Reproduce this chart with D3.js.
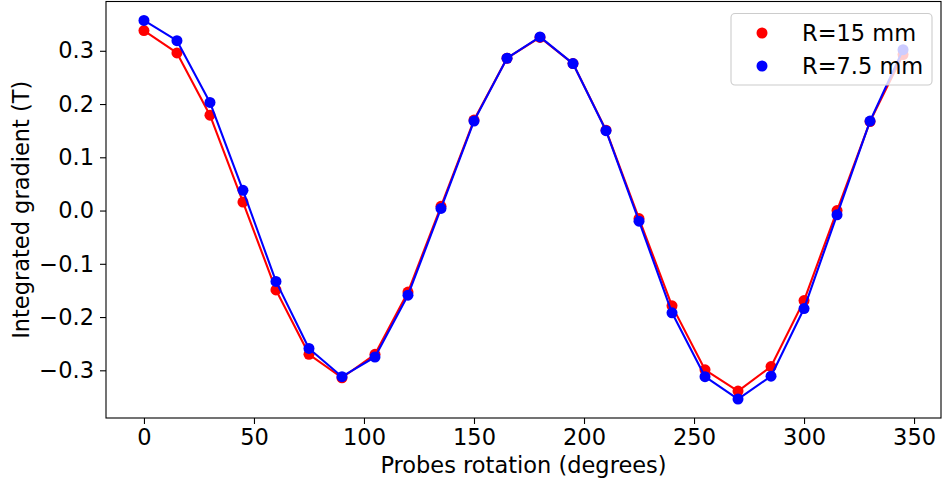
<!DOCTYPE html>
<html>
<head>
<meta charset="utf-8">
<script src="https://cdn.jsdelivr.net/npm/d3@7"></script>
<style>
  html, body { margin: 0; padding: 0; background: #fff; }
  svg { display: block; font-family: "DejaVu Sans", sans-serif; }
</style>
</head>
<body>
<svg id="chart" width="942" height="483"></svg>
<script>
// ---- data ----
const angles = [0, 15, 30, 45, 60, 75, 90, 105, 120, 135, 150, 165, 180, 195, 210, 225, 240, 255, 270, 285, 300, 315, 330, 345];
const r15 = [0.338, 0.296, 0.179, 0.016, -0.149, -0.270, -0.314, -0.270, -0.153, 0.008, 0.170, 0.286, 0.325, 0.276, 0.151, -0.015, -0.179, -0.299, -0.339, -0.293, -0.169, 0.000, 0.167, 0.293];
const r75 = [0.357, 0.319, 0.203, 0.038, -0.133, -0.259, -0.312, -0.275, -0.159, 0.004, 0.168, 0.286, 0.326, 0.276, 0.150, -0.020, -0.192, -0.312, -0.354, -0.311, -0.184, -0.008, 0.168, 0.302];
const seriesNames = ["R=15 mm", "R=7.5 mm"];
const seriesColors = ["#ff0000", "#0000ff"];
const xTicks = [0, 50, 100, 150, 200, 250, 300, 350];
const yTicks = [-0.3, -0.2, -0.1, 0.0, 0.1, 0.2, 0.3];
const xLabel = "Probes rotation (degrees)";
const yLabel = "Integrated gradient (T)";

// ---- layout ----
const svg = d3.select("#chart");
const L = 106, R = 941, T = 1.5, B = 418;
const FS = 22.5;

const xMin = d3.min(angles), xMax = d3.max(angles);
const xPad = (xMax - xMin) * 0.05;
const allY = r15.concat(r75);
const yMin = d3.min(allY), yMax = d3.max(allY);
const yPad = (yMax - yMin) * 0.05;

const x = d3.scaleLinear().domain([xMin - xPad, xMax + xPad]).range([L, R]);
const y = d3.scaleLinear().domain([yMin - yPad, yMax + yPad]).range([B, T]);

// ---- series ----
const series = [
  { name: seriesNames[0], color: seriesColors[0], values: r15 },
  { name: seriesNames[1], color: seriesColors[1], values: r75 }
];
const line = d3.line().x(d => x(d[0])).y(d => y(d[1]));
const plot = svg.append("g");
series.forEach(s => {
  const pts = angles.map((a, i) => [a, s.values[i]]);
  plot.append("path").datum(pts)
    .attr("d", line).attr("fill", "none")
    .attr("stroke", s.color).attr("stroke-width", 2.1)
    .attr("stroke-linejoin", "round");
  plot.selectAll(null).data(pts).enter().append("circle")
    .attr("cx", d => x(d[0])).attr("cy", d => y(d[1]))
    .attr("r", 5.5).attr("fill", s.color);
});

// ---- axes ----
const fmtY = d3.format(".1f");
const xAxis = svg.append("g").attr("transform", `translate(0,${B})`)
  .call(d3.axisBottom(x).tickValues(xTicks).tickSize(6).tickPadding(5).tickFormat(d3.format("d")));
const yAxis = svg.append("g").attr("transform", `translate(${L},0)`)
  .call(d3.axisLeft(y).tickValues(yTicks).tickSize(6).tickPadding(6).tickFormat(fmtY));
[xAxis, yAxis].forEach(g => {
  g.select(".domain").remove();
  g.selectAll(".tick line").attr("stroke", "#000").attr("stroke-width", 1.1);
  g.selectAll(".tick text").attr("fill", "#000")
    .style("font-family", "DejaVu Sans, sans-serif").style("font-size", FS + "px");
});

// frame
svg.append("rect").attr("x", L).attr("y", T).attr("width", R - L).attr("height", B - T)
  .attr("fill", "none").attr("stroke", "#000").attr("stroke-width", 1.1);

// axis titles
svg.append("text").attr("x", (L + R) / 2).attr("y", 473)
  .attr("text-anchor", "middle").attr("font-size", FS).text(xLabel);
svg.append("text")
  .attr("transform", `translate(29,${(T + B) / 2}) rotate(-90)`)
  .attr("text-anchor", "middle").attr("font-size", FS).text(yLabel);

// ---- legend ----
const lg = svg.append("g");
lg.append("rect").attr("x", 731).attr("y", 13.5).attr("width", 201).attr("height", 71.5)
  .attr("rx", 4).attr("fill", "#fff").attr("fill-opacity", 0.8)
  .attr("stroke", "#cccccc").attr("stroke-width", 1.1);
series.forEach((s, i) => {
  const cy = 33 + i * 33;
  lg.append("circle").attr("cx", 762).attr("cy", cy).attr("r", 5.5).attr("fill", s.color);
  lg.append("text").attr("x", 802).attr("y", cy + 8).attr("font-size", FS).text(s.name);
});
</script>
</body>
</html>
